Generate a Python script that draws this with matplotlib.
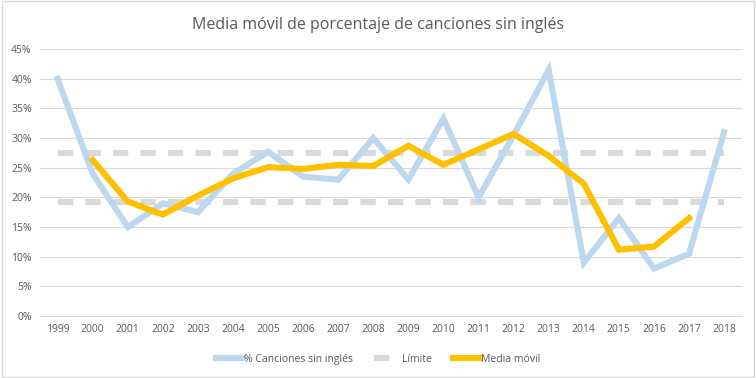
import matplotlib.pyplot as plt
import numpy as np

plt.rcParams['font.family'] = ['Open Sans', 'DejaVu Sans']

anos = ['1999', '2000', '2001', '2002', '2003', '2004', '2005', '2006', '2007', '2008',
        '2009', '2010', '2011', '2012', '2013', '2014', '2015', '2016', '2017', '2018']
sin_ingles = [40.0, 24.0, 15.0, 19.0, 17.5, 24.0, 27.7, 23.5, 23.0, 30.0,
              23.0, 33.3, 20.0, 30.5, 41.5, 9.0, 16.5, 8.0, 10.5, 31.0]
media_movil = [None, 26.3, 19.3, 17.1, 20.3, 23.2, 25.1, 24.8, 25.5, 25.3,
               28.7, 25.5, 28.1, 30.7, 27.0, 22.3, 11.2, 11.7, 16.5, None]
limite_sup = 27.5
limite_inf = 19.2

x = np.arange(len(anos))
mm = np.array([np.nan if v is None else v for v in media_movil])

fig = plt.figure(figsize=(7.56, 3.78), dpi=100)
ax = fig.add_axes([0.053, 0.164, 0.928, 0.706])

gris_texto = '#595959'

ax.plot(x, sin_ingles, color='#BDD7EE', lw=4.4, solid_joinstyle='miter', zorder=3,
        label='% Canciones sin inglés')
ax.plot(x, [limite_sup] * len(x), color='#D9D9D9', lw=4.4, dashes=(2.5, 2.0), zorder=2,
        label='Límite')
ax.plot(x, [limite_inf] * len(x), color='#D9D9D9', lw=4.4, dashes=(2.5, 2.0), zorder=2)
ax.plot(x, mm, color='#FFC000', lw=4.4, solid_joinstyle='miter', zorder=4,
        label='Media móvil')

ax.set_xlim(-0.5, len(x) - 0.5)
ax.set_ylim(0, 45)
ax.set_yticks(range(0, 46, 5))
ax.set_yticklabels([f'{v}%' for v in range(0, 46, 5)])
ax.set_xticks(x)
ax.set_xticklabels(anos)
ax.tick_params(length=0, labelsize=7.5, colors=gris_texto, pad=6)
ax.grid(axis='y', color='#D9D9D9', lw=0.8, zorder=0)
for s in ['top', 'right', 'left']:
    ax.spines[s].set_visible(False)
ax.spines['bottom'].set_color('#D9D9D9')

fig.suptitle('Media móvil de porcentaje de canciones sin inglés', y=0.955,
             fontsize=11.5, color=gris_texto)

fig.legend(loc='lower center', bbox_to_anchor=(0.5, 0.01), ncol=3, frameon=False,
           fontsize=7.5, labelcolor=gris_texto, handlelength=2.6, handletextpad=0.1,
           columnspacing=2.0)

# borde del grafico
fig.patches.append(plt.Rectangle((0.002, 0.003), 0.995, 0.994, transform=fig.transFigure,
                                 fill=False, edgecolor='#D9D9D9', lw=1))

fig.savefig('out.png', dpi=100)
